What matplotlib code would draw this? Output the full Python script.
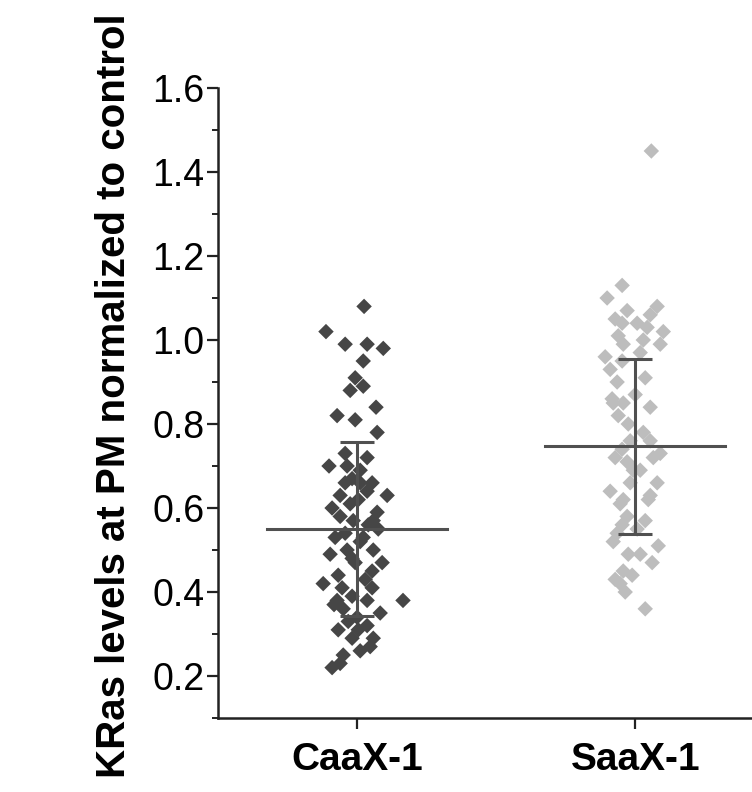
import numpy as np
import matplotlib
matplotlib.use('Agg')
import matplotlib.pyplot as plt
from matplotlib.ticker import MultipleLocator

plt.rcParams['font.family'] = ['Liberation Sans', 'DejaVu Sans']

groups = ['CaaX-1', 'SaaX-1']
group_pos = [1, 2]
colors = ['#464646', '#bdbdbd']

# values (y) with the horizontal scatter offsets (dx)
caax_y = [1.08, 1.02, 0.99, 0.99, 0.98, 0.95, 0.91, 0.88, 0.89, 0.84,
          0.82, 0.81, 0.78, 0.70, 0.70, 0.72, 0.67, 0.66, 0.63, 0.64,
          0.61, 0.59, 0.58, 0.57, 0.56, 0.54, 0.53, 0.49, 0.50, 0.52,
          0.50, 0.47, 0.45, 0.48, 0.42, 0.41, 0.39, 0.38, 0.38, 0.35,
          0.36, 0.34, 0.32, 0.38, 0.29, 0.27, 0.25, 0.26, 0.22, 0.66,
          0.69, 0.63, 0.62, 0.57, 0.53, 0.47, 0.43, 0.44, 0.33, 0.41,
          0.31, 0.31, 0.55, 0.37, 0.23, 0.29, 0.60, 0.66, 0.73]
caax_dx = [0.025, -0.112, -0.043, 0.036, 0.094, 0.022, -0.007, -0.025, 0.022, 0.068,
           -0.072, -0.007, 0.072, -0.101, -0.036, 0.036, -0.018, 0.054, 0.108, 0.036,
           -0.025, 0.072, -0.061, -0.014, 0.040, -0.043, 0.022, -0.097, -0.036, 0.011,
           0.058, 0.090, 0.054, -0.018, -0.122, -0.054, -0.018, -0.072, 0.036, 0.083,
           -0.050, 0.000, 0.036, 0.165, -0.018, 0.047, -0.050, 0.011, -0.090, -0.043,
           0.011, -0.061, 0.004, 0.058, -0.079, -0.007, 0.029, -0.068, -0.032, 0.054,
           0.004, -0.068, 0.076, -0.083, -0.061, 0.058, -0.090, 0.011, -0.043]

saax_y = [1.45, 1.13, 1.10, 1.08, 1.07, 1.04, 1.04, 1.03, 1.02, 1.01,
          1.00, 0.99, 0.99, 0.97, 0.96, 0.91, 0.90, 0.86, 0.85, 0.82,
          0.80, 0.78, 0.74, 0.73, 0.72, 0.71, 0.69, 0.64, 0.62, 0.66,
          0.62, 0.58, 0.56, 0.52, 0.51, 0.49, 0.47, 0.45, 0.44, 0.42,
          0.36, 0.95, 0.93, 0.85, 0.76, 0.66, 0.63, 0.61, 0.69, 0.72,
          0.57, 0.54, 0.49, 0.43, 0.87, 0.84, 0.76, 1.05, 1.06, 0.40,
          0.55]
saax_dx = [0.058, -0.047, -0.101, 0.079, -0.029, -0.047, 0.007, 0.043, 0.101, -0.061,
           0.029, 0.090, -0.043, 0.018, -0.108, 0.036, -0.065, -0.083, -0.043, -0.061,
           -0.025, 0.029, -0.047, 0.090, 0.065, -0.029, -0.007, -0.090, -0.043, 0.079,
           0.047, -0.029, -0.047, -0.079, 0.083, -0.025, 0.061, -0.043, -0.011, -0.054,
           0.036, -0.047, -0.090, -0.079, 0.054, -0.018, 0.054, -0.054, 0.018, -0.072,
           0.036, -0.065, 0.018, -0.072, 0.000, 0.054, -0.018, -0.072, 0.054, -0.036,
           0.007]

means = [0.55, 0.747]
sds = [0.207, 0.208]

fig = plt.figure(figsize=(7.52, 7.92), dpi=100)
ax = fig.add_axes([0.29, 0.0934, 0.71, 0.7955])

all_y = [caax_y, saax_y]
all_dx = [caax_dx, saax_dx]
for pos, ys, dxs, c in zip(group_pos, all_y, all_dx, colors):
    ax.scatter(pos + np.array(dxs), ys, marker='D', s=62, color=c,
               edgecolors='none', zorder=2)

line_c = '#505050'
for pos, m, sd in zip(group_pos, means, sds):
    ax.plot([pos - 0.324, pos + 0.324], [m, m], color=line_c, lw=2.2, zorder=3)
    ax.errorbar(pos, m, yerr=sd, fmt='none', ecolor=line_c, elinewidth=2.2,
                capsize=12, capthick=2.2, zorder=3)

ax.set_xlim(0.5, 2.42)
ax.set_ylim(0.1, 1.6)
ax.set_xticks(group_pos)
ax.set_xticklabels(groups, fontsize=28, fontweight='bold')
ax.set_yticks([0.2, 0.4, 0.6, 0.8, 1.0, 1.2, 1.4, 1.6])
ax.set_yticklabels(['0.2', '0.4', '0.6', '0.8', '1.0', '1.2', '1.4', '1.6'], fontsize=27)
ax.yaxis.set_minor_locator(MultipleLocator(0.1))

for s in ['top', 'right']:
    ax.spines[s].set_visible(False)
for s in ['left', 'bottom']:
    ax.spines[s].set_linewidth(1.8)
    ax.spines[s].set_color('#222222')

ax.tick_params(axis='y', which='major', length=8, width=1.6, pad=2, color='#222222')
ax.tick_params(axis='y', which='minor', length=4.5, width=1.4, color='#222222')
ax.tick_params(axis='x', which='major', length=8, width=1.6, pad=9, color='#222222')

ax.set_ylabel('KRas levels at PM normalized to control', fontsize=29, fontweight='bold')
ax.yaxis.set_label_coords(-0.16, 0.511)

fig.savefig('out.png', dpi=100)
